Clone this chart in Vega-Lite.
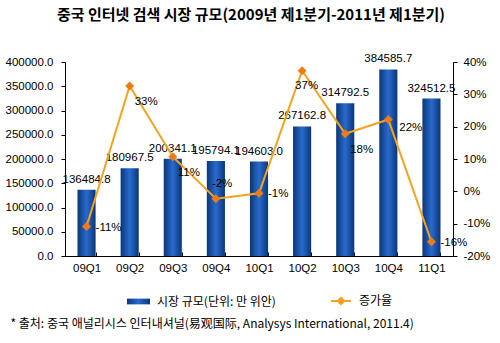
{
  "$schema": "https://vega.github.io/schema/vega-lite/v6.json",
  "width": 388,
  "height": 194,
  "autosize": {"type": "none"},
  "padding": {"left": 65, "top": 62, "right": 47, "bottom": 87},
  "background": "white",
  "title": {
    "text": "중국 인터넷 검색 시장 규모(2009년 제1분기-2011년 제1분기)",
    "font": "Noto Sans CJK KR",
    "fontSize": 15,
    "fontWeight": "bold",
    "color": "#000000",
    "anchor": "middle",
    "frame": "group",
    "dx": -8,
    "offset": 30
  },
  "config": {
    "view": {"stroke": null},
    "locale": {"number": {"decimal": ".", "thousands": ",", "grouping": [3], "currency": ["$", ""], "minus": "-"}},
    "font": "Liberation Sans, Noto Sans CJK KR",
    "axis": {
      "labelFont": "Liberation Sans",
      "labelFontSize": 11.5,
      "labelColor": "#000000",
      "domainColor": "#000000",
      "tickColor": "#000000",
      "labelOverlap": false,
      "grid": false
    },
    "legend": {
      "labelFont": "Noto Sans CJK KR",
      "labelFontSize": 12,
      "labelColor": "#000000",
      "padding": 0
    }
  },
  "data": {
    "values": [
      {"q": "09Q1", "size": 136484.8, "growth": -0.109},
      {"q": "09Q2", "size": 180967.5, "growth": 0.326},
      {"q": "09Q3", "size": 200341.1, "growth": 0.107},
      {"q": "09Q4", "size": 195794.1, "growth": -0.023},
      {"q": "10Q1", "size": 194603.0, "growth": -0.006},
      {"q": "10Q2", "size": 267162.8, "growth": 0.373},
      {"q": "10Q3", "size": 314792.5, "growth": 0.178},
      {"q": "10Q4", "size": 384585.7, "growth": 0.222},
      {"q": "11Q1", "size": 324512.5, "growth": -0.156}
    ]
  },
  "encoding": {
    "x": {
      "field": "q",
      "type": "nominal",
      "sort": null,
      "scale": {"paddingInner": 0.58, "paddingOuter": 0.29},
      "axis": {
        "labelAngle": 0,
        "labelPadding": 10,
        "tickSize": -4,
        "tickBand": "extent",
        "domainColor": "#000000",
        "title": "* 출처: 중국 애널리시스 인터내셔널(易观国际, Analysys International, 2011.4)",
        "titleFont": "Noto Sans CJK KR",
        "titleFontSize": 12,
        "titleFontWeight": "normal",
        "titleColor": "#000000",
        "titleX": -55,
        "titleY": 67,
        "titleAlign": "left",
        "titleAnchor": "start",
        "titleBaseline": "middle"
      }
    }
  },
  "layer": [
    {
      "encoding": {
        "y": {
          "field": "size",
          "type": "quantitative",
          "scale": {"domain": [0, 400000], "nice": false},
          "axis": {
            "values": [0, 50000, 100000, 150000, 200000, 250000, 300000, 350000, 400000],
            "format": ".1f",
            "tickSize": 4,
            "labelPadding": 8,
            "labelOverlap": false,
            "title": null
          }
        }
      },
      "layer": [
        {
          "mark": {
            "type": "bar",
            "fill": {
              "gradient": "linear",
              "x1": 0, "y1": 0, "x2": 1, "y2": 0,
              "stops": [
                {"offset": 0, "color": "#0B3675"},
                {"offset": 0.3, "color": "#1C56AE"},
                {"offset": 0.5, "color": "#2A6AC9"},
                {"offset": 0.7, "color": "#1C56AE"},
                {"offset": 1, "color": "#0B3675"}
              ]
            }
          },
          "encoding": {
            "opacity": {
              "datum": "시장 규모(단위: 만 위안)",
              "type": "nominal",
              "scale": {"range": [1]},
              "legend": {
                "orient": "none",
                "legendX": 62,
                "legendY": 228,
                "title": null,
                "symbolType": "M-1,-0.25H1V0.25H-1Z",
                "symbolSize": 529,
                "symbolFillColor": "#1C56AE",
                "symbolStrokeWidth": 0,
                "symbolOpacity": 1,
                "labelOffset": 7
              }
            }
          }
        },
        {
          "mark": {"type": "text", "baseline": "bottom", "dy": -5, "fontSize": 11.5, "font": "Liberation Sans", "color": "#000000"},
          "encoding": {
            "text": {"field": "size", "type": "quantitative", "format": ".1f"}
          }
        }
      ]
    },
    {
      "encoding": {
        "y": {
          "field": "growth",
          "type": "quantitative",
          "scale": {"domain": [-0.2, 0.4], "nice": false},
          "axis": {
            "orient": "right",
            "values": [-0.2, -0.1, 0, 0.1, 0.2, 0.3, 0.4],
            "format": ".0%",
            "tickSize": 4,
            "labelPadding": 6,
            "labelOverlap": false,
            "labelFlush": false,
            "title": null
          }
        }
      },
      "layer": [
        {
          "mark": {"type": "line", "strokeWidth": 2},
          "encoding": {
            "stroke": {
              "datum": "증가율",
              "type": "nominal",
              "scale": {"range": ["#F5A31F"]},
              "legend": {
                "orient": "none",
                "legendX": 265,
                "legendY": 228,
                "title": null,
                "symbolType": "M-1,0H1M0,-0.32L0.32,0L0,0.32L-0.32,0Z",
                "symbolSize": 400,
                "symbolStrokeWidth": 2,
                "symbolFillColor": "#F07A14",
                "labelOffset": 7
              }
            }
          }
        },
        {
          "mark": {"type": "point", "shape": "diamond", "filled": true, "size": 80, "color": "#F07A14", "opacity": 1},
          "encoding": {}
        },
        {
          "transform": [{"filter": "indexof(['09Q1','10Q1','11Q1'], datum.q) >= 0"}],
          "mark": {"type": "text", "align": "left", "dx": 9, "dy": 1, "fontSize": 11.5, "font": "Liberation Sans", "color": "#000000"},
          "encoding": {
            "text": {"field": "growth", "type": "quantitative", "format": ".0%"}
          }
        },
        {
          "transform": [{"filter": "datum.q == '09Q4'"}],
          "mark": {"type": "text", "align": "left", "dx": -4, "dy": -15, "fontSize": 11.5, "font": "Liberation Sans", "color": "#000000"},
          "encoding": {
            "text": {"field": "growth", "type": "quantitative", "format": ".0%"}
          }
        },
        {
          "transform": [{"filter": "indexof(['09Q2','09Q3','10Q3'], datum.q) >= 0"}],
          "mark": {"type": "text", "align": "left", "dx": 5, "dy": 16, "fontSize": 11.5, "font": "Liberation Sans", "color": "#000000"},
          "encoding": {
            "text": {"field": "growth", "type": "quantitative", "format": ".0%"}
          }
        },
        {
          "transform": [{"filter": "datum.q == '10Q2'"}],
          "mark": {"type": "text", "align": "left", "dx": -7, "dy": 15, "fontSize": 11.5, "font": "Liberation Sans", "color": "#000000"},
          "encoding": {
            "text": {"field": "growth", "type": "quantitative", "format": ".0%"}
          }
        },
        {
          "transform": [{"filter": "datum.q == '10Q4'"}],
          "mark": {"type": "text", "align": "left", "dx": 11, "dy": 8, "fontSize": 11.5, "font": "Liberation Sans", "color": "#000000"},
          "encoding": {
            "text": {"field": "growth", "type": "quantitative", "format": ".0%"}
          }
        }
      ]
    }
  ],
  "resolve": {"scale": {"y": "independent"}}
}
